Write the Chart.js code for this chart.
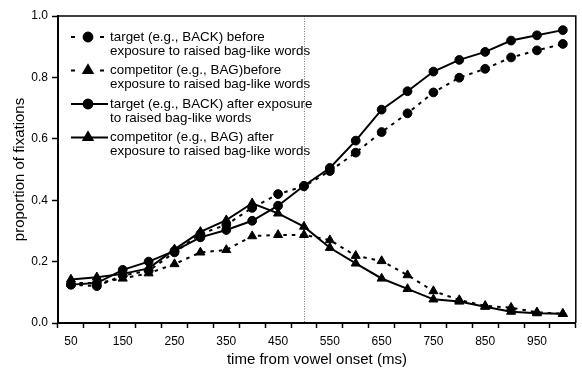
<!DOCTYPE html>
<html><head><meta charset="utf-8">
<script src="https://cdn.jsdelivr.net/npm/chart.js@4/dist/chart.umd.min.js"></script>
<style>html,body{margin:0;padding:0;background:#fff}#wrap{width:582px;height:369px}</style>
</head><body><div id="wrap"><canvas id="c" width="582" height="369"></canvas></div>
<script>
// ---- data ----
const categories = [50,100,150,200,250,300,350,400,450,500,550,600,650,700,750,800,850,900,950,1000];
const xTickLabels = ['50','150','250','350','450','550','650','750','850','950'];
const yTicks = [0,0.2,0.4,0.6,0.8,1.0];
const targetBefore     = [0.125,0.120,0.155,0.170,0.230,0.290,0.320,0.375,0.420,0.445,0.495,0.555,0.622,0.683,0.751,0.799,0.828,0.865,0.888,0.909];
const competitorBefore = [0.130,0.130,0.145,0.162,0.192,0.230,0.238,0.283,0.287,0.287,0.270,0.219,0.202,0.156,0.104,0.075,0.056,0.050,0.035,0.030];
const targetAfter      = [0.125,0.130,0.173,0.200,0.235,0.279,0.303,0.333,0.382,0.447,0.505,0.594,0.695,0.755,0.819,0.857,0.883,0.920,0.937,0.954];
const competitorAfter  = [0.142,0.149,0.160,0.178,0.240,0.297,0.335,0.390,0.357,0.314,0.245,0.194,0.145,0.111,0.077,0.070,0.053,0.037,0.032,0.030];
const seriesNames = [
  ['target (e.g., BACK) before','exposure to raised bag-like words'],
  ['competitor (e.g., BAG)before','exposure to raised bag-like words'],
  ['target (e.g., BACK) after exposure','to raised bag-like words'],
  ['competitor (e.g., BAG) after','exposure to raised bag-like words']
];
const markerTime = '500';
const xTitle = 'time from vowel onset (ms)';
const yTitle = 'proportion of fixations';

const FONT = "'Liberation Sans', Arial, sans-serif";
const DASH = [3.5,5];

function ds(label, data, style, dashed){
  return {label, data, borderColor:'#000', backgroundColor:'#000', borderWidth:2,
    borderDash: dashed ? DASH : [], pointStyle:style, pointRadius: style==='triangle'?5.2:4.4,
    pointBorderWidth:1, pointBackgroundColor:'#000', pointBorderColor:'#000', tension:0, fill:false};
}

const frame = {
  id:'frame',
  beforeDatasetsDraw(chart){
    const {ctx, chartArea:a, scales:{x}} = chart;
    const px = x.getPixelForValue(categories.map(String).indexOf(markerTime));
    ctx.save();
    ctx.strokeStyle='#777'; ctx.lineWidth=1; ctx.setLineDash([1,1.5]);
    ctx.beginPath(); ctx.moveTo(Math.round(px)+0.5, a.top); ctx.lineTo(Math.round(px)+0.5, a.bottom); ctx.stroke();
    ctx.restore();
  },
  afterDraw(chart){
    const {ctx, chartArea:a} = chart;
    ctx.save();
    ctx.strokeStyle='#000'; ctx.lineWidth=1.5;
    ctx.beginPath(); ctx.moveTo(a.left, a.top); ctx.lineTo(a.right, a.top); ctx.lineTo(a.right, a.bottom); ctx.stroke();
    // legend
    chart.data.datasets.forEach((d,i)=>{
      const y = 37 + i*33.5;
      ctx.strokeStyle='#000'; ctx.lineWidth=2;
      ctx.setLineDash(d.borderDash.length ? [4,25] : []);
      ctx.beginPath(); ctx.moveTo(71,y); ctx.lineTo(108,y); ctx.stroke();
      ctx.setLineDash([]);
      Chart.helpers.drawPoint(ctx,{pointStyle:d.pointStyle, radius:d.pointRadius, rotation:0, borderWidth:1}, 88, y);
      ctx.fillStyle='#000'; ctx.font='13.4px '+FONT; ctx.textBaseline='middle'; ctx.textAlign='left';
      seriesNames[i].forEach((t,j)=>ctx.fillText(t,110,y+j*14));
    });
    ctx.restore();
  }
};

new Chart(document.getElementById('c'),{
  type:'line',
  data:{labels:categories.map(String), datasets:[
    ds(seriesNames[0].join(' '), targetBefore, 'circle', true),
    ds(seriesNames[1].join(' '), competitorBefore, 'triangle', true),
    ds(seriesNames[2].join(' '), targetAfter, 'circle', false),
    ds(seriesNames[3].join(' '), competitorAfter, 'triangle', false)
  ]},
  options:{
    responsive:false, animation:false, devicePixelRatio:1,
    layout:{padding:{top:16,right:4,left:11,bottom:0}},
    plugins:{legend:{display:false}, tooltip:{enabled:false}},
    scales:{
      x:{type:'category', offset:true,
        grid:{offset:true, drawOnChartArea:false, drawTicks:true, tickLength:5, tickColor:'#000', tickWidth:1.5},
        border:{color:'#000', width:2},
        ticks:{autoSkip:false, maxRotation:0, minRotation:0, color:'#000', padding:6, font:{family:FONT,size:12},
          callback(v){ const l=this.getLabelForValue(v); return xTickLabels.includes(l)?l:''; }},
        title:{display:true, text:xTitle, color:'#000', font:{family:FONT,size:15}, padding:{top:0,bottom:0}},
        afterFit(s){ s.height=46; }
      },
      y:{min:0, max:1,
        afterBuildTicks(s){ s.ticks = yTicks.map(v=>({value:v})); },
        grid:{drawOnChartArea:false, drawTicks:true, tickLength:6, tickColor:'#000', tickWidth:1.5},
        border:{color:'#000', width:2},
        ticks:{color:'#000', padding:4, font:{family:FONT,size:12}, callback:v=>v.toFixed(1)},
        title:{display:true, text:yTitle, color:'#000', font:{family:FONT,size:15}, padding:{top:0,bottom:0}},
        afterFit(s){ s.width=47; }
      }
    }
  },
  plugins:[frame]
});
</script></body></html>
